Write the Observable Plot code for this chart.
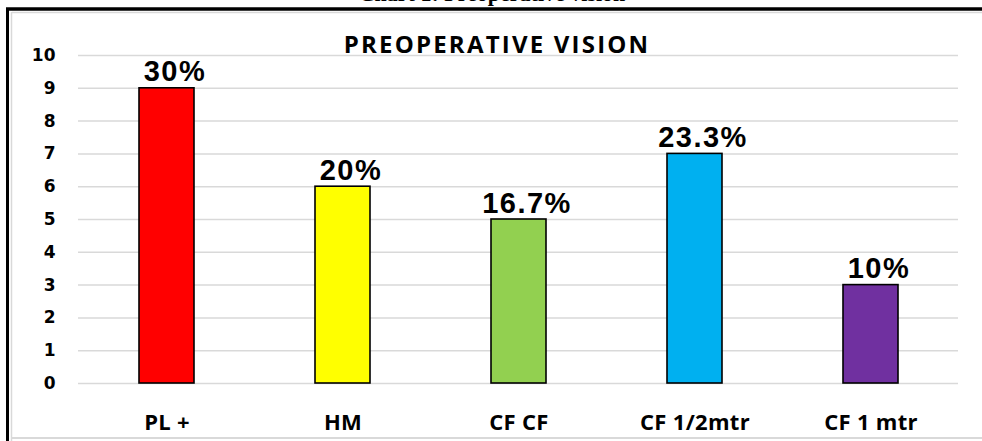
<!DOCTYPE html>
<html>
<head>
<meta charset="utf-8">
<script src="https://cdn.jsdelivr.net/npm/d3@7"></script>
<script src="https://cdn.jsdelivr.net/npm/@observablehq/plot@0.6"></script>
<style>
  html, body { margin: 0; padding: 0; background: #fff; overflow: hidden; }
  #chart svg { display: block; }
</style>
</head>
<body>
<div id="chart"></div>
<script>
const categories = ["PL +", "HM", "CF CF", "CF 1/2mtr", "CF 1 mtr"];
const counts = [9, 6, 5, 7, 3];
const percentLabels = ["30%", "20%", "16.7%", "23.3%", "10%"];
const barColors = ["#FF0000", "#FFFF00", "#92D050", "#00B0F0", "#7030A0"];
const yTicks = [0, 1, 2, 3, 4, 5, 6, 7, 8, 9, 10];
const chartTitle = "PREOPERATIVE VISION";
const cutTitle = "Chart 1: Preoperative vision";

const data = categories.map((c, i) => ({category: c, count: counts[i], label: percentLabels[i], color: barColors[i]}));

const plot = Plot.plot({
  width: 982,
  height: 441,
  marginLeft: 78,
  marginRight: 24,
  marginTop: 55,
  marginBottom: 58,
  style: {background: "#fff", overflow: "visible"},
  x: {domain: categories, paddingInner: 0.69, paddingOuter: 0.345, label: null},
  y: {domain: [0, 10], label: null},
  marks: [
    Plot.gridY(yTicks, {stroke: "#d9d9d9", strokeOpacity: 1, strokeWidth: 1.5}),
    Plot.barY(data, {x: "category", y: "count", fill: "color", stroke: "#000", strokeWidth: 1.6}),
    Plot.text(data, {x: "category", y: "count", text: "label", lineAnchor: "bottom", dy: -7, dx: 8,
      fontSize: 29, fontWeight: "bold", fontFamily: "Liberation Sans, Arial, sans-serif", fill: "#000"}),
    Plot.axisY(yTicks, {tickSize: 0, tickPadding: 23, fontSize: 17, fontWeight: "bold",
      fontFamily: "DejaVu Sans, sans-serif", label: null}),
    Plot.axisX({tickSize: 0, tickPadding: 31, fontSize: 22, fontWeight: "bold",
      fontFamily: "Open Sans, sans-serif", label: null})
  ]
});

document.getElementById("chart").appendChild(plot);
const svg = d3.select(plot);

svg.selectAll('g[aria-label="x-axis tick label"] text').style("letter-spacing", "0.3px");
svg.selectAll('g[aria-label="text"] text').style("letter-spacing", "1.5px");

// frame
svg.append("line").attr("x1", 12).attr("x2", 982).attr("y1", 12.5).attr("y2", 12.5).attr("stroke", "#d9d9d9").attr("stroke-width", 1.5);
svg.append("line").attr("x1", 11.5).attr("x2", 11.5).attr("y1", 12).attr("y2", 441).attr("stroke", "#d9d9d9").attr("stroke-width", 1.5);
svg.append("line").attr("x1", 12).attr("x2", 982).attr("y1", 438).attr("y2", 438).attr("stroke", "#d9d9d9").attr("stroke-width", 2);
svg.append("line").attr("x1", 6).attr("x2", 982).attr("y1", 9).attr("y2", 9).attr("stroke", "#000").attr("stroke-width", 3.5);
svg.append("line").attr("x1", 7.5).attr("x2", 7.5).attr("y1", 8).attr("y2", 441).attr("stroke", "#000").attr("stroke-width", 3);

// titles
svg.append("text").attr("x", 492).attr("y", 1).attr("text-anchor", "middle")
  .attr("font-family", "Liberation Serif, serif").attr("font-weight", "bold").attr("font-size", 22)
  .attr("fill", "#000").text(cutTitle);
svg.append("text").attr("x", 497).attr("y", 53).attr("text-anchor", "middle")
  .attr("font-family", "Open Sans, sans-serif").attr("font-weight", "bold").attr("font-size", 24)
  .style("letter-spacing", "2.2px")
  .attr("fill", "#000").text(chartTitle);
</script>
</body>
</html>
